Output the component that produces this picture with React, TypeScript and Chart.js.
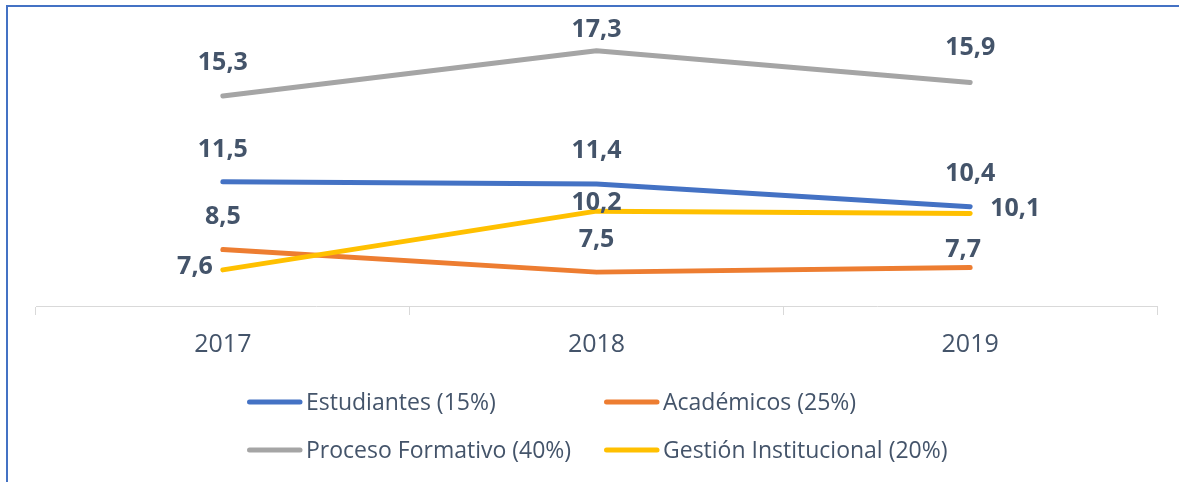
import React, { useEffect, useRef } from 'react';
import { Chart, registerables } from 'chart.js';

Chart.register(...registerables);

// ---- Data ----
const categories = ['2017', '2018', '2019'];
const seriesNames = [
  'Estudiantes (15%)',
  'Académicos (25%)',
  'Proceso Formativo (40%)',
  'Gestión Institucional (20%)',
];
const estudiantes = [11.5, 11.4, 10.4];
const academicos = [8.5, 7.5, 7.7];
const procesoFormativo = [15.3, 17.3, 15.9];
const gestionInstitucional = [7.6, 10.2, 10.1];
const yMin = 6;
const yMax = 18;

// ---- Styles ----
const FONT = "'Open Sans', 'Noto Sans', sans-serif";
const TEXT = '#44546A';
const colors = ['#4472C4', '#ED7D31', '#A5A5A5', '#FFC000'];
// label placement per series/point: [dx, dy (baseline), align]
const labelPlacement: [number, number, CanvasTextAlign][][] = [
  [[0, -25, 'center'], [0, -26, 'center'], [0, -26, 'center']],
  [[0, -26, 'center'], [0, -25, 'center'], [-7, -11, 'center']],
  [[0, -26, 'center'], [0, -14, 'center'], [0, -27, 'center']],
  [[-10, 4, 'right'], [0, -1, 'center'], [20, 3, 'left']],
];

const fmt = (v: number) => v.toFixed(1).replace('.', ',');

export default function App() {
  const ref = useRef<HTMLCanvasElement>(null);

  useEffect(() => {
    document.body.style.margin = '0';
    const canvas = ref.current;
    if (!canvas) return;

    const valueLabels = {
      id: 'valueLabels',
      afterDatasetsDraw(chart: any) {
        const ctx = chart.ctx;
        ctx.save();
        ctx.font = `bold 25px ${FONT}`;
        ctx.fillStyle = TEXT;
        ctx.textBaseline = 'alphabetic';
        chart.data.datasets.forEach((ds: any, i: number) => {
          const meta = chart.getDatasetMeta(i);
          meta.data.forEach((pt: any, j: number) => {
            const [dx, dy, al] = labelPlacement[i][j];
            ctx.textAlign = al;
            ctx.fillText(fmt(ds.data[j]), pt.x + dx, pt.y + dy);
          });
        });
        ctx.restore();
      },
    };

    const customLegend = {
      id: 'customLegend',
      afterDraw(chart: any) {
        const ctx = chart.ctx;
        const colX = [247, 604];
        const rowY = [402, 450];
        ctx.save();
        ctx.font = `23px ${FONT}`;
        ctx.textBaseline = 'alphabetic';
        ctx.textAlign = 'left';
        chart.data.datasets.forEach((ds: any, i: number) => {
          const x = colX[i % 2];
          const y = rowY[Math.floor(i / 2)];
          ctx.strokeStyle = ds.borderColor;
          ctx.lineWidth = 5;
          ctx.lineCap = 'round';
          ctx.beginPath();
          ctx.moveTo(x + 2.5, y);
          ctx.lineTo(x + 53, y);
          ctx.stroke();
          ctx.fillStyle = TEXT;
          ctx.fillText(ds.label, x + 59, y + 8);
        });
        ctx.restore();
      },
    };

    const seriesData = [estudiantes, academicos, procesoFormativo, gestionInstitucional];

    const chart = new Chart(canvas, {
      type: 'line',
      data: {
        labels: categories,
        datasets: seriesData.map((d, i) => ({
          label: seriesNames[i],
          data: d,
          borderColor: colors[i],
          backgroundColor: colors[i],
          borderWidth: 5,
          borderCapStyle: 'round',
          borderJoinStyle: 'round',
          pointRadius: 0,
          pointHoverRadius: 0,
          tension: 0,
          order: 3 - i,
        })),
      },
      options: {
        responsive: false,
        animation: false,
        devicePixelRatio: 1,
        layout: { padding: { left: 36, right: 22, top: 35, bottom: 0 } },
        plugins: {
          legend: { display: false },
          tooltip: { enabled: false },
        },
        scales: {
          x: {
            offset: true,
            afterFit: (scale: any) => {
              scale.height = 176;
            },
            grid: {
              display: true,
              offset: true,
              drawOnChartArea: false,
              drawTicks: true,
              tickLength: 9,
              color: '#D9D9D9',
              lineWidth: 1,
            },
            border: { display: true, color: '#D9D9D9', width: 1 },
            ticks: {
              color: TEXT,
              font: { family: FONT, size: 25 },
              padding: 15,
              maxRotation: 0,
            },
          },
          y: {
            display: false,
            min: yMin,
            max: yMax,
          },
        },
      } as any,
      plugins: [valueLabels, customLegend],
    });

    return () => chart.destroy();
  }, []);

  return (
    <div style={{ position: 'relative', width: 1179, height: 482, overflow: 'hidden', background: '#fff' }}>
      <div
        style={{
          position: 'absolute',
          left: 6,
          top: 5,
          width: 1300,
          height: 600,
          borderLeft: '2px solid #4472C4',
          borderTop: '2px solid #4472C4',
          boxSizing: 'border-box',
        }}
      />
      <canvas
        ref={ref}
        width={1179}
        height={482}
        style={{ position: 'absolute', left: 0, top: 0, width: 1179, height: 482 }}
      />
    </div>
  );
}
